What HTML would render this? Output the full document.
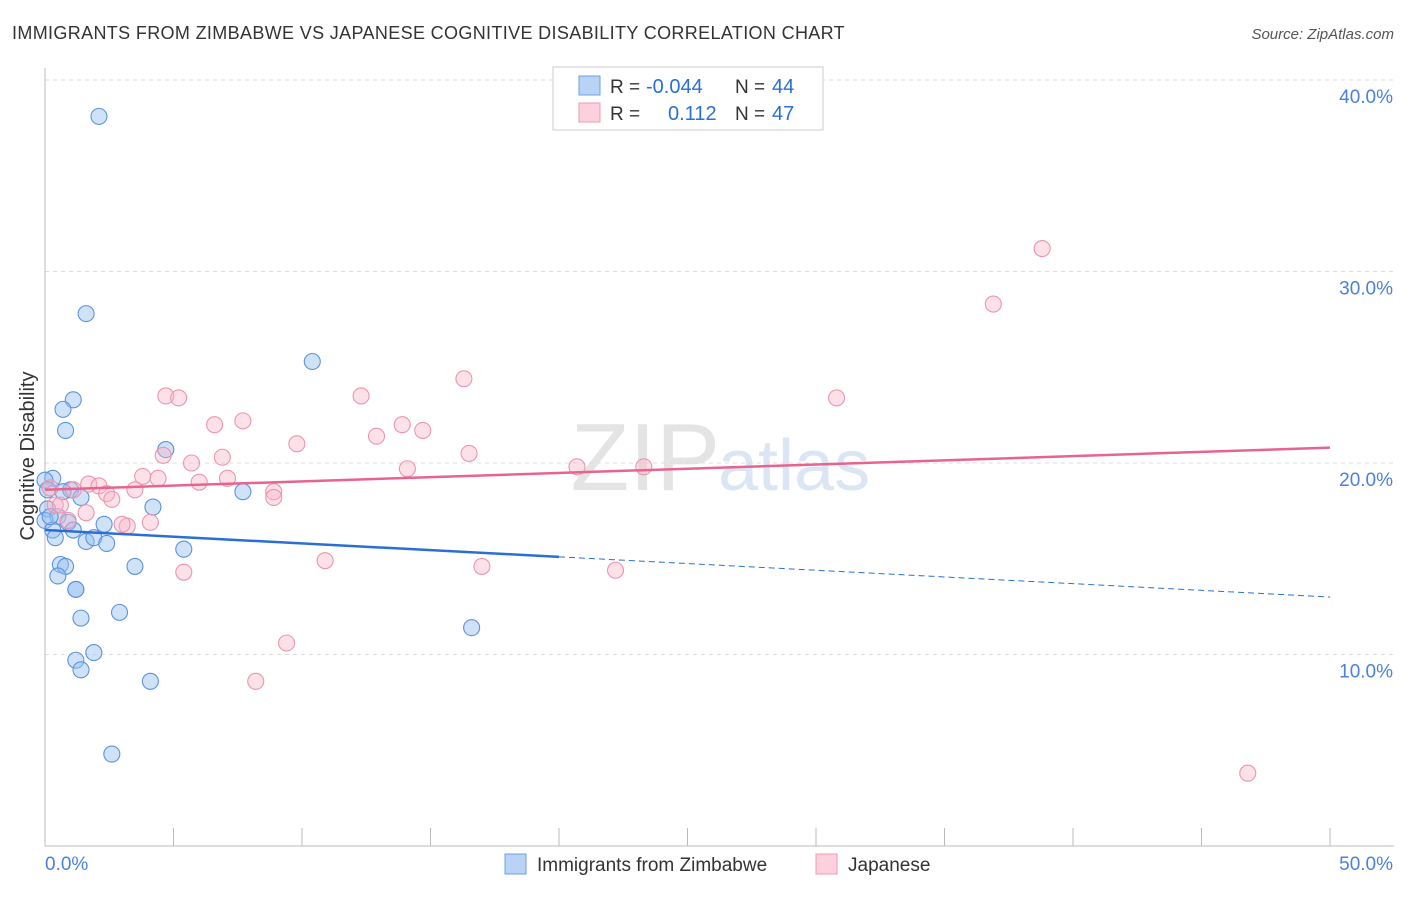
<!DOCTYPE html>
<html><head><meta charset="utf-8"><style>
body{margin:0;background:#fff;font-family:"Liberation Sans",sans-serif}
svg text{font-family:"Liberation Sans",sans-serif}
</style></head><body>
<svg id="chart" width="1406" height="892">
<text x="12" y="39" font-size="18" fill="#333" letter-spacing="0.35">IMMIGRANTS FROM ZIMBABWE VS JAPANESE COGNITIVE DISABILITY CORRELATION CHART</text>
<text x="1394" y="39" font-size="15" fill="#555" font-style="italic" text-anchor="end">Source: ZipAtlas.com</text>
<text x="720" y="490" font-size="96" fill="#e4e4e4" text-anchor="end" font-family="Liberation Serif">ZIP</text>
<text x="718" y="490" font-size="72" fill="#dbe6f5">atlas</text>
<g id="grid"></g>
<g id="axes"></g>
<g id="points"></g>
<g id="lines"></g>
<text x="34" y="456" font-size="20" fill="#333" transform="rotate(-90 34 456)" text-anchor="middle">Cognitive Disability</text>
<g>
<rect x="553" y="67" width="270" height="63" fill="#fff" stroke="#ccc"/>
<rect x="579" y="76" width="21" height="19" fill="#b8d3f5" stroke="#6fa0e0"/>
<rect x="579" y="103" width="21" height="19" fill="#fcd0dc" stroke="#ee9ab2"/>
<text x="610" y="93" font-size="19" fill="#333">R =</text>
<text x="646" y="93" font-size="20" fill="#2a6fd6">-0.044</text>
<text x="735" y="93" font-size="19" fill="#333">N =</text>
<text x="772" y="93" font-size="20" fill="#2a6fd6">44</text>
<text x="610" y="120" font-size="19" fill="#333">R =</text>
<text x="668" y="120" font-size="20" fill="#2a6fd6">0.112</text>
<text x="735" y="120" font-size="19" fill="#333">N =</text>
<text x="772" y="120" font-size="20" fill="#2a6fd6">47</text>
</g>
<g>
<rect x="505" y="854" width="21" height="20" fill="#b8d3f5" stroke="#6fa0e0"/>
<text x="537" y="871" font-size="19" fill="#333">Immigrants from Zimbabwe</text>
<rect x="816" y="854" width="21" height="20" fill="#fcd0dc" stroke="#ee9ab2"/>
<text x="848" y="871" font-size="19" fill="#333">Japanese</text>
</g>
</svg>
<script>
const yTicks=[10,20,30,40];
const yTickLabels=["10.0%","20.0%","30.0%","40.0%"];
const xTickLabels=["0.0%","50.0%"];
const blueX=[2.1,1.6,10.4,1.1,0.7,0.8,4.7,0.3,0.0,1.0,0.7,1.4,7.7,4.2,0.1,0.5,2.3,0.9,0.0,0.3,1.1,0.4,1.6,1.9,2.4,5.4,0.6,0.8,3.5,0.5,1.2,1.2,1.4,2.9,16.6,1.9,1.2,1.4,4.1,2.6,0.2,0.1];
const blueY=[38.1,27.8,25.3,23.3,22.8,21.7,20.7,19.2,19.1,18.6,18.5,18.2,18.5,17.7,17.6,17.2,16.8,16.9,17.0,16.5,16.5,16.1,15.9,16.1,15.8,15.5,14.7,14.6,14.6,14.1,13.4,13.4,11.9,12.2,11.4,10.1,9.7,9.2,8.6,4.8,17.2,18.6];
const pinkX=[38.8,36.9,16.3,4.7,5.2,12.3,30.8,7.7,6.6,13.9,14.7,12.9,9.8,4.6,16.5,6.9,5.7,14.1,20.7,23.3,4.4,3.8,7.1,6.0,1.7,2.1,1.1,0.2,3.5,8.9,8.9,2.4,2.6,0.4,1.6,0.9,3.2,4.1,3.0,10.9,5.4,17.0,22.2,9.4,8.2,46.8,0.6];
const pinkY=[31.2,28.3,24.4,23.5,23.4,23.5,23.4,22.2,22.0,22.0,21.7,21.4,21.0,20.4,20.5,20.3,20.0,19.7,19.8,19.8,19.2,19.3,19.2,19.0,18.9,18.8,18.6,18.7,18.6,18.5,18.2,18.4,18.1,17.8,17.4,17.0,16.7,16.9,16.8,14.9,14.3,14.6,14.4,10.6,8.6,3.8,17.8];
const blueTrend=[[0,16.5],[20,15.1],[50,13.0]];
const pinkTrend=[[0,18.6],[50,20.8]];
const NS="http://www.w3.org/2000/svg";
const sx=v=>45+v*25.7, sy=v=>846-v*19.15;
function mk(parent,tag,attrs){const e=document.createElementNS(NS,tag);for(const k in attrs)e.setAttribute(k,attrs[k]);document.getElementById(parent).appendChild(e);return e;}
yTicks.forEach((t,i)=>{
 const g=mk('grid','line',{x1:45,x2:1394,y1:sy(t),y2:sy(t),stroke:'#ddd','stroke-dasharray':'4 4'});
 
 
 const l=mk('axes','text',{x:1393,y:sy(t)+23,'font-size':19,fill:'#4a82d8','text-anchor':'end'});
 l.textContent=yTickLabels[i];
 
 
});
const ya=mk('axes','line',{x1:45,x2:45,y1:68,y2:846,stroke:'#bbb'});


const xa=mk('axes','line',{x1:45,x2:1394,y1:846,y2:846,stroke:'#bbb'});


for(let i=0;i<=10;i++){
 const t=mk('axes','line',{x1:sx(i*5),x2:sx(i*5),y1:828,y2:846,stroke:'#bbb'});
 
 
}
[[0,'start',45],[50,'end',1393]].forEach((d,i)=>{
 const l=mk('axes','text',{x:d[2],y:870,'font-size':19,fill:'#4a82d8','text-anchor':d[1]});
 l.textContent=xTickLabels[i];
 
 
});
blueX.forEach((x,i)=>{
 const c=mk('points','circle',{cx:sx(x),cy:sy(blueY[i]),r:8,fill:'rgba(150,190,240,0.45)',stroke:'#5b93dc','stroke-width':1.1});
 
 
});
pinkX.forEach((x,i)=>{
 const c=mk('points','circle',{cx:sx(x),cy:sy(pinkY[i]),r:8,fill:'rgba(250,180,200,0.4)',stroke:'#ec94ad','stroke-width':1.1});
 
 
});
const b1=mk('lines','line',{x1:sx(blueTrend[0][0]),y1:sy(blueTrend[0][1]),x2:sx(blueTrend[1][0]),y2:sy(blueTrend[1][1]),stroke:'#2a6fd6','stroke-width':2.5});


const b2=mk('lines','line',{x1:sx(blueTrend[1][0]),y1:sy(blueTrend[1][1]),x2:sx(blueTrend[2][0]),y2:sy(blueTrend[2][1]),stroke:'#2a6fd6','stroke-width':1,'stroke-dasharray':'6 4'});


const p1=mk('lines','line',{x1:sx(pinkTrend[0][0]),y1:sy(pinkTrend[0][1]),x2:sx(pinkTrend[1][0]),y2:sy(pinkTrend[1][1]),stroke:'#e8648e','stroke-width':2.5});


</script>
</body></html>
